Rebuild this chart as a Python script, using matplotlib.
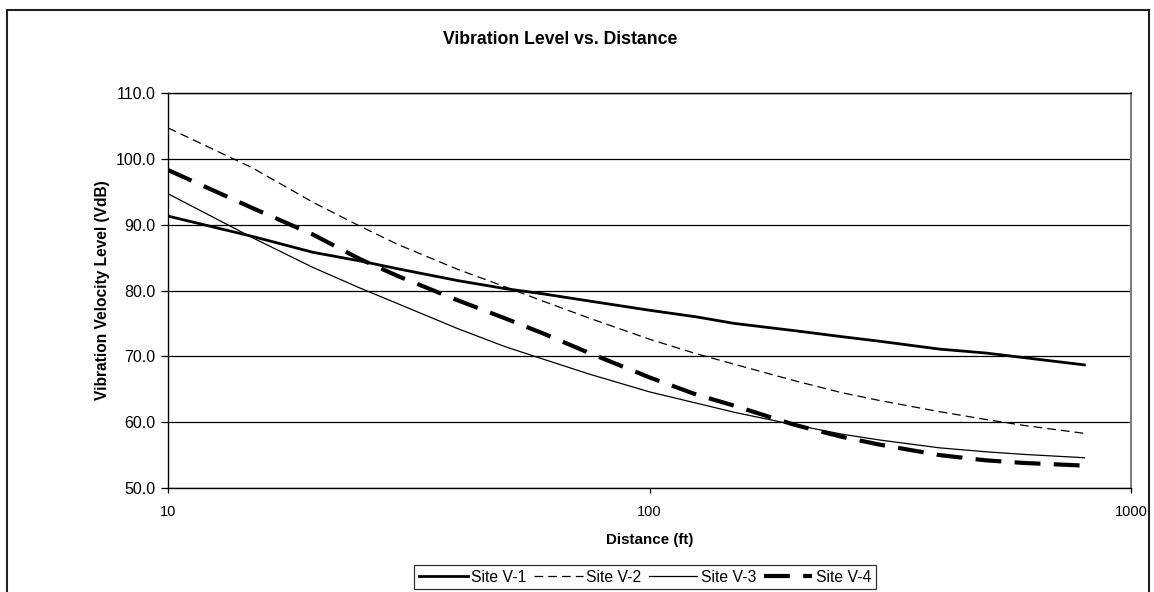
import numpy as np
import matplotlib
matplotlib.use("Agg")
import matplotlib.pyplot as plt
from matplotlib.patches import Rectangle
from matplotlib.ticker import FixedLocator, FuncFormatter, NullLocator

plt.rcParams['font.family'] = ['Liberation Sans', 'DejaVu Sans']

# distances (ft) and vibration velocity levels (VdB)
distance = [10, 15, 20, 25, 30, 40, 50, 60, 75, 100, 125, 150, 200, 250, 300, 400, 500, 600, 800]
site_v1 = [91.3, 88.2, 85.8, 84.5, 83.3, 81.5, 80.3, 79.5, 78.4, 77.0, 76.0, 75.0, 73.9, 73.0, 72.3, 71.1, 70.5, 69.8, 68.7]
site_v2 = [104.7, 98.6, 93.4, 89.8, 87.0, 83.2, 80.6, 78.4, 75.8, 72.6, 70.4, 68.8, 66.3, 64.5, 63.3, 61.6, 60.4, 59.5, 58.3]
site_v3 = [94.7, 88.0, 83.5, 80.4, 78.0, 74.2, 71.5, 69.6, 67.3, 64.6, 62.9, 61.5, 59.6, 58.2, 57.3, 56.1, 55.5, 55.1, 54.6]
site_v4 = [98.3, 92.5, 88.5, 84.8, 82.2, 78.5, 75.8, 73.5, 70.5, 66.8, 64.2, 62.5, 59.6, 57.8, 56.6, 55.0, 54.2, 53.8, 53.4]

y_ticks = [50, 60, 70, 80, 90, 100, 110]
x_ticks = [10, 100, 1000]

W, H = 1154, 592
fig = plt.figure(figsize=(W / 100, H / 100), dpi=100)
ax = fig.add_axes([168 / W, 1 - 488 / H, (1131 - 168) / W, (488 - 93) / H])

# chart border (Excel style frame)
fig.patches.append(Rectangle((7 / W, -0.05), (1149 - 7) / W, 1.05 - 10 / H,
                             transform=fig.transFigure, fill=False,
                             edgecolor='#222222', linewidth=1.5))

ax.plot(distance, site_v1, color='black', lw=2.0, label='Site V-1')
ax.plot(distance, site_v2, color='black', lw=0.9, dashes=(7, 4), label='Site V-2')
ax.plot(distance, site_v3, color='black', lw=0.9, label='Site V-3')
ax.plot(distance, site_v4, color='black', lw=3.0, dashes=(6.2, 3.2), label='Site V-4')

ax.set_xscale('log')
ax.set_xlim(10, 1000)
ax.set_ylim(50, 110)
ax.xaxis.set_major_locator(FixedLocator(x_ticks))
ax.xaxis.set_minor_locator(NullLocator())
ax.xaxis.set_major_formatter(FuncFormatter(lambda v, p: '%d' % v))
ax.yaxis.set_major_locator(FixedLocator(y_ticks))
ax.yaxis.set_major_formatter(FuncFormatter(lambda v, p: '%.1f' % v))
ax.tick_params(axis='y', labelsize=11.5, length=5, width=0.9, direction='out', pad=4)
ax.tick_params(axis='x', labelsize=10.5, length=3.5, width=0.9, direction='out', pad=9)
ax.grid(axis='y', color='black', lw=0.9)
ax.set_axisbelow(True)

for s in ['left', 'bottom', 'top']:
    ax.spines[s].set_color('black')
    ax.spines[s].set_linewidth(1.0)
ax.spines['right'].set_color('#808080')
ax.spines['right'].set_linewidth(1.5)

ylab = ax.set_ylabel('Vibration Velocity Level (VdB)', fontsize=11.2, fontweight='bold')
ylab.set_va('center')
ax.yaxis.set_label_coords((103 - 168) / (1131 - 168), 0.5)
xlab = ax.set_xlabel('Distance (ft)', fontsize=10.9, fontweight='bold')
xlab.set_va('center')
ax.xaxis.set_label_coords(0.5, (488 - 540) / (488 - 93))

fig.text(560 / W, 1 - 39 / H, 'Vibration Level vs. Distance', fontsize=12.7,
         fontweight='bold', ha='center', va='center')

leg = ax.legend(loc='center', bbox_to_anchor=(645 / W, 1 - 577 / H),
                bbox_transform=fig.transFigure, ncol=4, fontsize=11.3,
                frameon=True, fancybox=False, handlelength=3.1,
                handletextpad=0.2, columnspacing=0.5, borderpad=0.3,
                borderaxespad=0)
leg.get_frame().set_edgecolor('black')
leg.get_frame().set_linewidth(0.9)

fig.savefig('out.png', dpi=100)
